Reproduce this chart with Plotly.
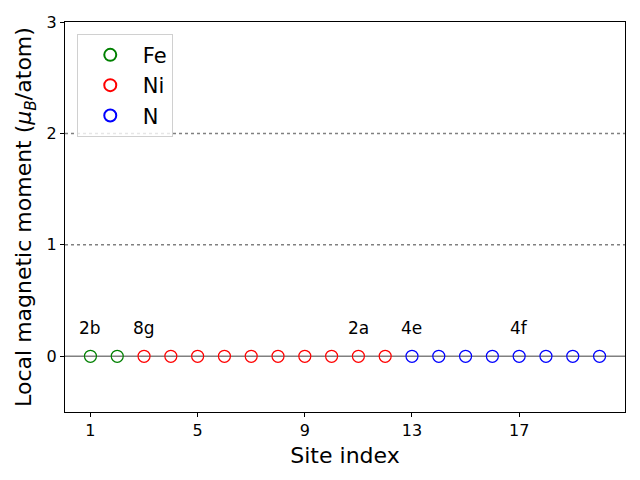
import plotly.graph_objects as go

# Data
fe_sites = [1, 2]
fe_moments = [0.0, 0.0]
ni_sites = [3, 4, 5, 6, 7, 8, 9, 10, 11, 12]
ni_moments = [0.0] * 10
n_sites = [13, 14, 15, 16, 17, 18, 19, 20]
n_moments = [0.0] * 8

label_sites = [1, 3, 11, 13, 17]
label_texts = ["2b", "8g", "2a", "4e", "4f"]
label_y = 0.25

dotted_levels = [1, 2]
solid_levels = [0]

x_ticks = [1, 5, 9, 13, 17]
y_ticks = [0, 1, 2, 3]

FONT = "DejaVu Sans"

fig = go.Figure()

for lv in solid_levels:
    fig.add_shape(type="line", xref="paper", x0=0, x1=1, yref="y", y0=lv, y1=lv,
                  line=dict(color="gray", width=1.5), layer="below")
for lv in dotted_levels:
    fig.add_shape(type="line", xref="paper", x0=0, x1=1, yref="y", y0=lv, y1=lv,
                  line=dict(color="gray", width=1.5, dash="dot"), layer="below")

for name, xs, ys, col in [("Fe", fe_sites, fe_moments, "green"),
                          ("Ni", ni_sites, ni_moments, "red"),
                          ("N", n_sites, n_moments, "blue")]:
    fig.add_trace(go.Scatter(x=xs, y=ys, mode="markers", name=name,
                             marker=dict(symbol="circle-open", size=12,
                                         color=col, line=dict(width=1.2, color=col))))

for xs, t in zip(label_sites, label_texts):
    fig.add_annotation(x=xs, y=label_y, text=t, showarrow=False,
                       xanchor="center", yanchor="middle",
                       font=dict(family=FONT, size=17, color="black"))

fig.update_layout(
    width=640, height=480,
    margin=dict(l=65, r=15, t=22, b=68),
    plot_bgcolor="white", paper_bgcolor="white",
    font=dict(family=FONT, size=16, color="black"),
    legend=dict(x=0.021, y=0.97, xanchor="left", yanchor="top",
                bgcolor="rgba(255,255,255,0.8)", bordercolor="#d0d0d0", borderwidth=1,
                font=dict(family=FONT, size=21), itemsizing="constant", itemwidth=55),
    showlegend=True,
)
fig.update_xaxes(range=[0.05, 20.95], tickvals=x_ticks, ticks="outside", ticklen=4,
                 tickcolor="black", showgrid=False, zeroline=False,
                 showline=True, linecolor="black", linewidth=1, mirror=True,
                 title=dict(text="Site index", font=dict(family=FONT, size=22), standoff=8),
                 tickfont=dict(family=FONT, size=16))
fig.update_yaxes(range=[-0.5, 3], tickvals=y_ticks, ticks="outside", ticklen=4,
                 tickcolor="black", showgrid=False, zeroline=False,
                 showline=True, linecolor="black", linewidth=1, mirror=True,
                 title=dict(text="Local magnetic moment (<i>μ<sub>B</sub></i>/atom)",
                            font=dict(family=FONT, size=22), standoff=8),
                 tickfont=dict(family=FONT, size=16))

fig.write_html("out.html")
